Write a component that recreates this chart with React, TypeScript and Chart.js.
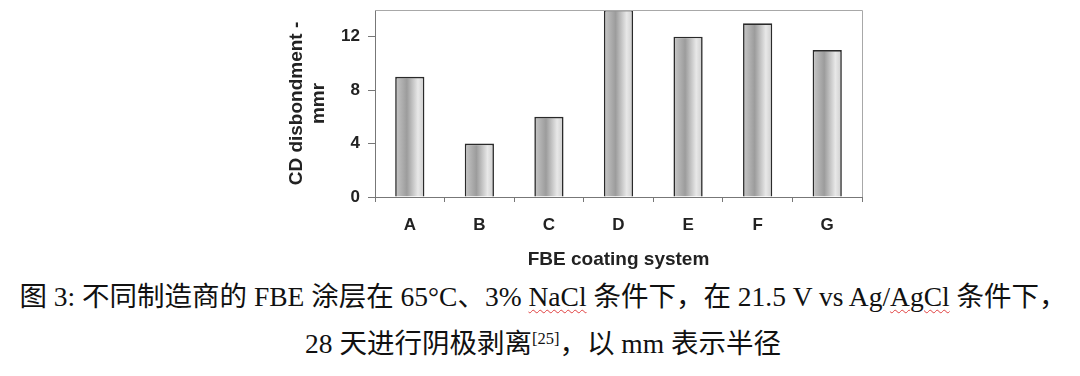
import React, { useEffect, useRef } from 'react';
import { Chart, registerables } from 'chart.js';

Chart.register(...registerables);

const categories = ['A', 'B', 'C', 'D', 'E', 'F', 'G'];
const disbondment = [9, 4, 6, 14, 12, 13, 11];
const yTickValues = [0, 4, 8, 12];
const yMax = 14;
const yTitle = ['CD disbondment -', 'mmr'];
const xTitle = 'FBE coating system';

const BAR_FRACTION = 0.42;

const framePlugin = {
  id: 'frame',
  afterDraw(chart: any) {
    const { ctx, chartArea } = chart;
    ctx.save();
    ctx.strokeStyle = '#a8a8a8';
    ctx.lineWidth = 1;
    ctx.beginPath();
    ctx.moveTo(chartArea.left, chartArea.top + 0.5);
    ctx.lineTo(chartArea.right + 0.5, chartArea.top + 0.5);
    ctx.lineTo(chartArea.right + 0.5, chartArea.bottom);
    ctx.stroke();
    ctx.restore();
  },
};

function barGradient(c: any) {
  const chart = c.chart;
  const xs = chart.scales && chart.scales.x;
  if (!xs || c.type !== 'data' || !xs.width) return '#b0b0b0';
  const cx = xs.getPixelForValue(c.dataIndex);
  const w = (xs.width / categories.length) * BAR_FRACTION;
  const g = chart.ctx.createLinearGradient(cx - w / 2, 0, cx + w / 2, 0);
  g.addColorStop(0, '#c8c8c8');
  g.addColorStop(0.4, '#9c9c9c');
  g.addColorStop(0.78, '#e8e8e8');
  g.addColorStop(1, '#cccccc');
  return g;
}

function ChartCanvas() {
  const ref = useRef<HTMLCanvasElement | null>(null);
  useEffect(() => {
    if (!ref.current) return;
    const font = "'Liberation Sans', Arial, sans-serif";
    const chart = new Chart(ref.current, {
      type: 'bar',
      data: {
        labels: categories,
        datasets: [
          {
            data: disbondment,
            backgroundColor: barGradient as any,
            borderColor: '#2a2a2a',
            borderWidth: 1.6,
            barPercentage: BAR_FRACTION,
            categoryPercentage: 1,
          },
        ],
      },
      options: {
        animation: false,
        responsive: false,
        devicePixelRatio: 1,
        layout: { padding: { left: 280, top: 10, right: 218, bottom: 0 } },
        plugins: { legend: { display: false }, tooltip: { enabled: false } },
        scales: {
          x: {
            grid: {
              display: true,
              drawOnChartArea: false,
              drawTicks: true,
              tickLength: 5,
              color: '#777777',
              offset: true,
            },
            border: { display: true, color: '#777777', width: 1 },
            ticks: {
              color: '#222222',
              padding: 13,
              font: { family: font, size: 17, weight: 'bold' },
            },
            title: {
              display: true,
              text: xTitle,
              color: '#222222',
              padding: { top: 0, bottom: 4 },
              font: { family: font, size: 19, weight: 'bold' },
            },
            afterFit: (s: any) => {
              s.height = 78;
              s.paddingLeft = 0;
              s.paddingRight = 0;
            },
          },
          y: {
            min: 0,
            max: yMax,
            grid: {
              display: true,
              drawOnChartArea: false,
              drawTicks: true,
              tickLength: 7,
              color: '#777777',
            },
            border: { display: true, color: '#777777', width: 1 },
            afterBuildTicks: (s: any) => {
              s.ticks = yTickValues.map((v) => ({ value: v }));
            },
            ticks: {
              color: '#222222',
              padding: 8,
              font: { family: font, size: 17, weight: 'bold' },
            },
            title: {
              display: true,
              text: yTitle,
              color: '#222222',
              padding: { top: 5, bottom: 0 },
              font: { family: font, size: 19, weight: 'bold' },
            },
            afterFit: (s: any) => {
              s.width = 95;
              s.paddingTop = 0;
              s.paddingBottom = 0;
            },
          },
        },
      },
      plugins: [framePlugin],
    } as any);
    return () => chart.destroy();
  }, []);
  return (
    <canvas
      ref={ref}
      width={1080}
      height={275}
      style={{ position: 'absolute', left: 0, top: 0, width: 1080, height: 275 }}
    />
  );
}

const wavy: React.CSSProperties = {
  textDecorationLine: 'underline',
  textDecorationStyle: 'wavy',
  textDecorationColor: '#e04040',
  textDecorationThickness: '1px',
  textUnderlineOffset: '3px',
};

export default function App() {
  const captionFont = "'Liberation Serif', 'Times New Roman', 'Noto Sans CJK SC', serif";
  const lineStyle: React.CSSProperties = {
    position: 'absolute',
    left: 0,
    width: 1086,
    textAlign: 'center',
    fontFamily: captionFont,
    fontSize: 27.5,
    lineHeight: '32px',
    color: '#111',
    whiteSpace: 'nowrap',
  };
  return (
    <div style={{ position: 'absolute', left: 0, top: 0, width: 1080, height: 376, background: '#fff', overflow: 'hidden' }}>
      <ChartCanvas />
      <div style={{ ...lineStyle, top: 281 }}>
        图 3: 不同制造商的 FBE 涂层在 65°C、3% <span style={wavy}>NaCl</span> 条件下，在 21.5 V vs Ag/<span style={wavy}>AgCl</span> 条件下，
      </div>
      <div style={{ ...lineStyle, top: 328 }}>
        28 天进行阴极剥离<sup style={{ fontSize: '0.6em', verticalAlign: '0.55em', lineHeight: 0 }}>[25]</sup>，以 mm 表示半径
      </div>
    </div>
  );
}
